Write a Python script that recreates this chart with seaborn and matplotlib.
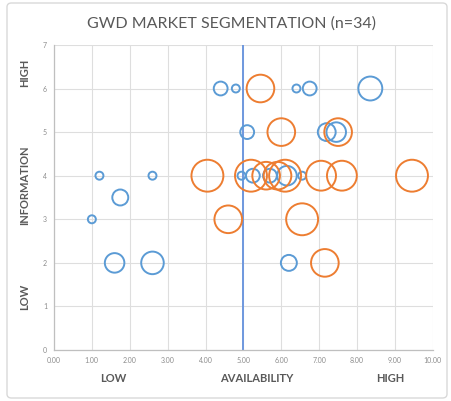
import matplotlib
matplotlib.use("Agg")
import matplotlib.pyplot as plt
import seaborn as sns
import pandas as pd
from matplotlib.patches import FancyBboxPatch

# Segment 1 (blue) respondents: availability score, information score, bubble weight
blue_x = [4.4, 4.8, 6.4, 6.75, 8.35, 5.1, 7.2, 7.45, 1.2, 2.6, 4.95, 5.25, 5.7,
          6.15, 6.55, 1.75, 1.0, 1.6, 2.6, 6.2]
blue_y = [6, 6, 6, 6, 6, 5, 5, 5, 4, 4, 4, 4, 4, 4, 4, 3.5, 3, 2, 2, 2]
blue_w = [3, 1, 1, 3, 9, 3, 5, 6, 1, 1, 1, 3, 3, 6, 1, 4, 1, 6, 8, 4]

# Segment 2 (orange) respondents
orange_x = [5.45, 6.0, 7.5, 4.05, 5.2, 5.6, 5.9, 6.1, 7.05, 7.6, 9.45, 4.6, 6.55, 7.15]
orange_y = [6, 5, 5, 4, 4, 4, 4, 4, 4, 4, 4, 3, 3, 2]
orange_w = [12, 12, 12, 16, 16, 12, 12, 16, 14, 14, 16, 12, 16, 12]

x_ticks = [0, 1, 2, 3, 4, 5, 6, 7, 8, 9, 10]
y_ticks = [0, 1, 2, 3, 4, 5, 6, 7]
split_x = 5.0

BLUE = "#5B9BD5"
ORANGE = "#ED7D31"
GRAY = "#595959"
TICK_GRAY = "#8C8C8C"
GRID = "#DEDEDE"

sns.set_theme(style="white")
plt.rcParams["font.family"] = ["Lato", "DejaVu Sans"]

fig = plt.figure(figsize=(4.51, 4.01), dpi=100)
ax = fig.add_axes([0.1197, 0.127, 0.840, 0.761])

blue_df = pd.DataFrame({"x": blue_x, "y": blue_y, "w": blue_w})
orange_df = pd.DataFrame({"x": orange_x, "y": orange_y, "w": orange_w})

size_kw = dict(sizes=(33, 528), size_norm=(1, 16), legend=False)
sns.scatterplot(data=blue_df, x="x", y="y", size="w", ax=ax,
                facecolor="none", edgecolor=BLUE, linewidth=1.4, zorder=3, **size_kw)
sns.scatterplot(data=orange_df, x="x", y="y", size="w", ax=ax,
                facecolor="none", edgecolor=ORANGE, linewidth=1.4, zorder=3, **size_kw)

ax.axvline(split_x, color="#6E98DE", linewidth=1.4, zorder=2)

ax.set_xlim(0, 10)
ax.set_ylim(0, 7)
ax.set_xticks(x_ticks)
ax.set_xticklabels([f"{v:.2f}" for v in x_ticks])
ax.set_yticks(y_ticks)
ax.set_yticklabels([str(v) for v in y_ticks])
ax.tick_params(axis="both", labelsize=5, colors=TICK_GRAY, length=0, pad=5)
ax.grid(True, color=GRID, linewidth=0.8, zorder=0)
ax.set_axisbelow(True)
for side in ["top", "right"]:
    ax.spines[side].set_visible(False)
for side in ["left", "bottom"]:
    ax.spines[side].set_color("#BFBFBF")
    ax.spines[side].set_linewidth(0.9)
ax.set_xlabel("")
ax.set_ylabel("")

fig.text(0.513, 1 - 24 / 401, "GWD MARKET SEGMENTATION (n=34)", ha="center", va="center",
         fontsize=11.5, color=GRAY)

# Axis captions
for xp, label in [(113, "LOW"), (257, "AVAILABILITY"), (390, "HIGH")]:
    fig.text(xp / 451, 1 - 379 / 401, label, ha="center", va="center",
             fontsize=8, fontweight="bold", color=GRAY)
for yp, label in [(73, "HIGH"), (185, "INFORMATION"), (297, "LOW")]:
    fig.text(25 / 451, 1 - yp / 401, label, ha="center", va="center", rotation=90,
             fontsize=8, fontweight="bold", color=GRAY)

# Chart frame
frame = FancyBboxPatch((7 / 451, 3 / 401), 440 / 451, 395 / 401,
                       boxstyle="round,pad=0,rounding_size=0.01",
                       transform=fig.transFigure, facecolor="none",
                       edgecolor="#D9D9D9", linewidth=1.0)
fig.patches.append(frame)

fig.savefig("out.png", dpi=100)
